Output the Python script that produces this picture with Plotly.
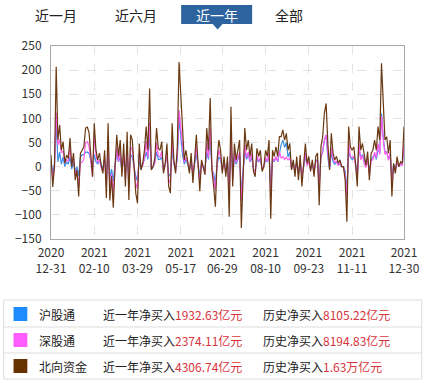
import plotly.graph_objects as go

# ---------------- data ----------------
north = [24, -42, 0, 207, 55, 86, 34, 52, 7, 24, 17, 59, 0, 28, -28, -7, -62, 28, 34, 41, 80, 82, 70, 21, -21, 90, 34, 14, 28, 3, -14, 34, -65,
         90, -70, -20, -85, 0, 66, 21, 55, -21, 48, -41, 72, -69, 66, 55, -3, -55, -76, 48, -7, 7, 34, 83, 34, 162, -7, 0, 17, 80, 38, 34, 52, -14,
         7, 48, -41, -55, 90, 14, -14, 41, 217, 145, 55, 14, 34, 14, -14, 28, -34, 14, 66, 7, -51, 14, 0, -17, 80, 34, 142, -7, -41, -83, 14, 55,
         34, -14, 21, -21, 21, -104, 124, -41, 48, 14, 34, 55, -127, -28, 80, 34, 55, 21, 48, -10, -21, 38, 21, 34, -10, 0, 34, 21, 55, -108, 34, 21, 41, 21, 62,
         62, 76, 55, 69, 34, 48, -7, 14, -21, 21, -28, 24, -41, 0, 48, 7, 21, -10, 14, -21, 21, 28, -80, 41, 62, 111, 131, 48, -7, 69, 28, 14, 21, 7, 14, 0,
         0, -28, -114, 83, 41, 34, 41, 7, -41, 83, 34, 48, 21, 3, 31, -28, 28, 34, 55, 34, 83, 55, 214, 117, 55, 62, 28, 55, -62, 7, -14, 21, 0, 10, 7, 83]

sh = [10, -15, 5, 95, 10, 30, 5, 20, 0, 10, 5, 20, -5, 10, -10, 0, -20, 20, 25, 25, 30, 30, 28, 15, 0, 25, 10, 5, 15, 5, -5, 15, -25,
      30, -25, -5, -30, 5, 25, 10, 20, -10, 20, -15, 25, -25, 25, 20, 0, -20, -30, 15, -5, 5, 15, 30, 15, 70, -5, 0, 10, 30, 15, 15, 20, -5,
      5, 20, -15, -20, 35, 5, -5, 15, 100, 65, 25, 5, 15, 5, -5, 10, -15, 5, 25, 5, -20, 5, 0, -5, 30, 15, 60, -5, -15, -35, 5, 20,
      15, -5, 10, -10, 10, -45, 55, -15, 20, 5, 15, 25, -55, -10, 35, 15, 25, 10, 20, -5, -10, 15, 10, 15, -5, 0, 15, 10, 25, -45, 15, 10, 20, 10, 30,
      45, 55, 40, 50, 20, 30, -5, 10, -10, 10, -15, 10, -20, 0, 20, 5, 10, -5, 5, -10, 10, 15, -35, 20, 30, 55, 65, 20, -5, 30, 10, 5, 10, 5, 5, 0,
      0, -10, -50, 30, 20, 15, 20, 5, -15, 35, 20, 25, 15, 5, 15, -10, 15, 20, 25, 15, 35, 30, 110, 60, 30, 30, 15, 25, -25, 5, -5, 10, 0, 5, 5, 35]

sz = [14, -27, -5, 112, 45, 56, 29, 32, 7, 14, 12, 39, 5, 18, -18, -7, -42, 8, 9, 16, 50, 52, 42, 6, -21, 65, 24, 9, 13, -2, -9, 19, -40,
      60, -45, -15, -55, -5, 41, 11, 35, -11, 28, -26, 47, -44, 41, 35, -3, -35, -46, 33, -2, 2, 19, 53, 19, 92, -2, 0, 7, 50, 23, 19, 32, -9,
      2, 28, -26, -35, 55, 9, -9, 26, 117, 80, 30, 9, 19, 9, -9, 18, -19, 9, 41, 2, -31, 9, 0, -12, 50, 19, 82, -2, -26, -48, 9, 35,
      19, -9, 11, -11, 11, -59, 69, -26, 28, 9, 19, 30, -72, -18, 45, 19, 30, 11, 28, -5, -11, 23, 11, 19, -5, 0, 19, 11, 30, -63, 19, 11, 21, 11, 32,
      17, 21, 15, 19, 14, 18, -2, 4, -11, 11, -13, 14, -21, 0, 28, 2, 11, -5, 9, -11, 11, 13, -45, 21, 32, 56, 66, 28, -2, 39, 18, 9, 11, 2, 9, 0,
      0, -18, -64, 53, 21, 19, 21, 2, -26, 48, 14, 23, 6, -2, 16, -18, 13, 14, 30, 19, 48, 25, 104, 57, 25, 32, 13, 30, -37, 2, -9, 11, 0, 5, 2, 48]

tick_idx = [0, 25, 50, 75, 99, 124, 149, 174, 204]
tick_labels = ["2020<br>12-31", "2021<br>02-10", "2021<br>03-29", "2021<br>05-17", "2021<br>06-29",
               "2021<br>08-10", "2021<br>09-23", "2021<br>11-11", "2021<br>12-30"]

series_names = ["沪股通", "深股通", "北向资金"]
series_colors = ["#3a8ee6", "#ff5cf0", "#6b3a12"]
legend_colors = ["#1e8cff", "#ff5cff", "#663300"]
year_buy = ["1932.63亿元", "2374.11亿元", "4306.74亿元"]
hist_buy = ["8105.22亿元", "8194.83亿元", "1.63万亿元"]
tabs = ["近一月", "近六月", "近一年", "全部"]

# ---------------- layout helpers ----------------
W, H = 432, 383
ML, MR, MT, MB = 51, 23, 46, 144
PW, PH = W - ML - MR, H - MT - MB
def fx(x): return (x - ML) / PW
def fy(y): return (H - MB - y) / PH

FONT = "Noto Sans CJK SC, Microsoft YaHei, sans-serif"

fig = go.Figure()
xs = list(range(len(north)))
for name, data, col in zip(series_names, [sh, sz, north], series_colors):
    fig.add_trace(go.Scatter(x=xs, y=data, mode="lines", name=name,
                             line=dict(color=col, width=1.2), hoverinfo="skip"))

shapes = []
annotations = []

# tab bar
tab_x = [56, 137, 219, 292]
for i, (t, cx) in enumerate(zip(tabs, tab_x)):
    if i == 2:
        shapes.append(dict(type="rect", xref="paper", yref="paper",
                           x0=fx(183), x1=fx(255), y0=fy(24), y1=fy(5),
                           fillcolor="#2d64a0", line=dict(width=0)))
        shapes.append(dict(type="path", xref="paper", yref="paper",
                           path=f"M {fx(215)} {fy(24)} L {fx(225)} {fy(24)} L {fx(220)} {fy(29.5)} Z",
                           fillcolor="#2d64a0", line=dict(width=0)))
        col = "white"
    else:
        col = "#222"
    annotations.append(dict(text=t, x=fx(cx), y=fy(15), xref="paper", yref="paper",
                            showarrow=False, xanchor="center", yanchor="middle",
                            font=dict(size=14, color=col, family=FONT)))

# legend table
shapes.append(dict(type="rect", xref="paper", yref="paper",
                   x0=fx(3), x1=fx(427), y0=fy(379), y1=fy(300),
                   line=dict(color="#dddddd", width=1), fillcolor="rgba(0,0,0,0)"))
for yy in [327, 353]:
    shapes.append(dict(type="line", xref="paper", yref="paper",
                       x0=fx(3), x1=fx(427), y0=fy(yy), y1=fy(yy),
                       line=dict(color="#dddddd", width=1)))
row_y = [314, 340, 366]
for i in range(3):
    ry = row_y[i]
    shapes.append(dict(type="rect", xref="paper", yref="paper",
                       x0=fx(13), x1=fx(27), y0=fy(ry + 7), y1=fy(ry - 7),
                       fillcolor=legend_colors[i], line=dict(width=0)))
    annotations.append(dict(text=series_names[i], x=fx(37), y=fy(ry), xref="paper", yref="paper",
                            showarrow=False, xanchor="left", yanchor="middle",
                            font=dict(size=12, color="#222", family=FONT)))
    annotations.append(dict(text=f"近一年净买入<span style='color:#d7343c'>{year_buy[i]}</span>",
                            x=fx(102), y=fy(ry), xref="paper", yref="paper",
                            showarrow=False, xanchor="left", yanchor="middle",
                            font=dict(size=12, color="#222", family=FONT)))
    annotations.append(dict(text=f"历史净买入<span style='color:#d7343c'>{hist_buy[i]}</span>",
                            x=fx(264), y=fy(ry), xref="paper", yref="paper",
                            showarrow=False, xanchor="left", yanchor="middle",
                            font=dict(size=12, color="#222", family=FONT)))

fig.update_layout(
    width=W, height=H,
    margin=dict(l=ML, r=MR, t=MT, b=MB, pad=0),
    paper_bgcolor="white", plot_bgcolor="white",
    showlegend=False, hovermode=False,
    font=dict(family=FONT, size=12, color="#333"),
    shapes=shapes, annotations=annotations,
)
fig.update_xaxes(range=[0, len(north) - 1], tickmode="array", tickvals=tick_idx, ticktext=tick_labels,
                 showgrid=True, gridcolor="#e3e3e3", griddash="dash", gridwidth=1,
                 showline=True, linecolor="#a8a8a8", linewidth=1, mirror=True,
                 ticks="", ticklabelstandoff=3, tickfont=dict(size=12, color="#333"), zeroline=False)
fig.update_yaxes(range=[-150, 250], tickmode="array", tickvals=list(range(-150, 251, 50)),
                 showgrid=True, gridcolor="#e3e3e3", griddash="dash", gridwidth=1,
                 showline=True, linecolor="#a8a8a8", linewidth=1, mirror=True,
                 ticks="", ticklabelstandoff=6, tickfont=dict(size=12, color="#333"), zeroline=False)

fig.write_html("out.html")
